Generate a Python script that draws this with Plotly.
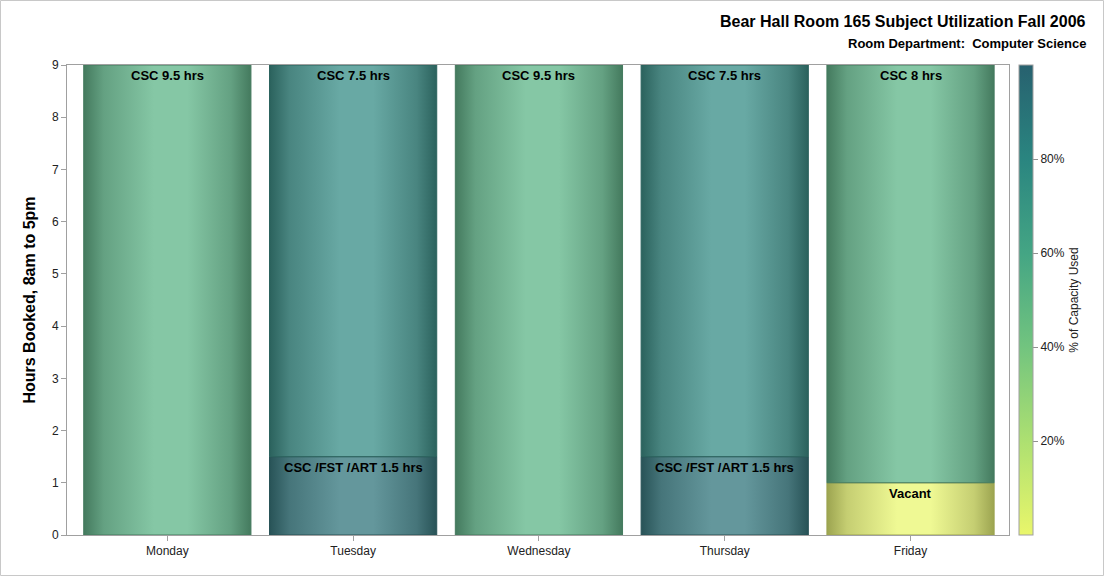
import plotly.graph_objects as go
from plotly.colors import sample_colorscale, unlabel_rgb

# ---------------- data ----------------
days = ["Monday", "Tuesday", "Wednesday", "Thursday", "Friday"]
seg_day = ["Monday", "Tuesday", "Tuesday", "Wednesday", "Thursday", "Thursday", "Friday", "Friday"]
seg_label = ["CSC 9.5 hrs", "CSC /FST /ART 1.5 hrs", "CSC 7.5 hrs", "CSC 9.5 hrs",
             "CSC /FST /ART 1.5 hrs", "CSC 7.5 hrs", "Vacant", "CSC 8 hrs"]
seg_hours = [9.5, 1.5, 7.5, 9.5, 1.5, 7.5, 1, 8]
seg_pct = [52, 92, 78, 52, 92, 78, 0, 52]
y_max = 9
pct_ticks = [20, 40, 60, 80]
pct_tick_text = ["20%", "40%", "60%", "80%"]

# ---------------- style ----------------
cscale = [[0.0, "#e9f66b"], [0.2, "#ade071"], [0.4, "#72c47f"],
          [0.6, "#44a584"], [0.8, "#2a8580"], [1.0, "#27616f"]]
FONT = "Liberation Sans, Arial, sans-serif"
bar_half = 0.45


def mix(c, t, a):
    return tuple(c[i] * (1 - a) + t[i] * a for i in range(3))


def rgb(c):
    return "rgb(%d,%d,%d)" % tuple(round(max(0, min(255, v))) for v in c)


fig = go.Figure()
cum = {d: 0.0 for d in days}
for d, lab, h, p in zip(seg_day, seg_label, seg_hours, seg_pct):
    xi = days.index(d)
    base = cum[d]
    top = base + h
    cum[d] = top
    top_draw = min(top, y_max)
    c = unlabel_rgb(sample_colorscale(cscale, [p / 100])[0])
    light = mix(c, (255, 255, 255), 0.28)
    dark = tuple(v * 0.6 + 16 for v in c)
    mid = mix(dark, light, 0.5)
    grad = [[0, rgb(dark)], [0.12, rgb(mid)], [0.42, rgb(light)], [0.62, rgb(light)],
            [0.88, rgb(mid)], [1, rgb(dark)]]
    x0, x1 = xi - bar_half, xi + bar_half
    fig.add_trace(go.Scatter(
        x=[x0, x1, x1, x0, x0], y=[base, base, top_draw, top_draw, base],
        mode="lines", fill="toself",
        fillgradient=dict(type="horizontal", colorscale=grad),
        line=dict(color=rgb(dark), width=1),
        hoverinfo="skip", showlegend=False))
    fig.add_annotation(x=xi, y=top_draw, text="<b>%s</b>" % lab, showarrow=False,
                       yanchor="top", yshift=-1,
                       font=dict(family=FONT, size=13, color="black"))

# colorbar carrier
fig.add_trace(go.Scatter(
    x=[days.index(d) for d in seg_day], y=[0] * len(seg_day), mode="markers",
    marker=dict(size=1, opacity=0, color=seg_pct, colorscale=cscale, cmin=0, cmax=100,
                showscale=True,
                colorbar=dict(x=1.0106, xanchor="left", xpad=0, ypad=0, y=0.5, yanchor="middle",
                              len=1, lenmode="fraction", thickness=14,
                              outlinecolor="#a0a0a0", outlinewidth=1,
                              tickmode="array", tickvals=pct_ticks, ticktext=pct_tick_text,
                              ticks="outside", ticklen=5, tickcolor="#909090",
                              tickfont=dict(family=FONT, size=12, color="#222"),
                              title=dict(text="% of Capacity Used", side="right",
                                         font=dict(family=FONT, size=12, color="#222")))),
    hoverinfo="skip", showlegend=False))

ml, mr, mt, mb = 67, 95, 65, 41
W, H = 1104, 576
pw, ph = W - ml - mr, H - mt - mb

fig.update_layout(
    width=W, height=H,
    margin=dict(l=ml, r=mr, t=mt, b=mb),
    paper_bgcolor="white", plot_bgcolor="white",
    font=dict(family=FONT, color="#222"),
    xaxis=dict(range=[-0.54, 4.53], tickvals=list(range(len(days))), ticktext=days,
               showgrid=False, zeroline=False, showline=True, mirror=True,
               linecolor="#a0a0a0", ticks="outside", ticklen=5, tickcolor="#a0a0a0",
               tickfont=dict(family=FONT, size=12, color="#222")),
    yaxis=dict(range=[0, y_max], dtick=1, showgrid=False, zeroline=False, showline=True,
               mirror=True, linecolor="#a0a0a0", ticks="outside", ticklen=5,
               tickcolor="#a0a0a0", tickfont=dict(family=FONT, size=12, color="#222"),
               title=dict(text="<b>Hours Booked, 8am to 5pm</b>", standoff=12,
                          font=dict(family=FONT, size=16, color="black"))),
)

fig.add_annotation(xref="paper", yref="paper", x=(1088 - ml) / pw, y=1 + (mt - 22) / ph,
                   xanchor="right", yanchor="middle", showarrow=False,
                   text="<b>Bear Hall Room 165 Subject Utilization Fall 2006</b>",
                   font=dict(family=FONT, size=16, color="black"))
fig.add_annotation(xref="paper", yref="paper", x=(1088 - ml) / pw, y=1 + (mt - 43) / ph,
                   xanchor="right", yanchor="middle", showarrow=False,
                   text="<b>Room Department:  Computer Science</b>",
                   font=dict(family=FONT, size=13, color="black"))

fig.add_shape(type="rect", xref="paper", yref="paper",
              x0=(0.5 - ml) / pw, x1=(W - 0.5 - ml) / pw,
              y0=-(mb - 0.5) / ph, y1=1 + (mt - 0.5) / ph,
              line=dict(color="#c8c8c8", width=1), layer="below")

fig.write_html("out.html")
